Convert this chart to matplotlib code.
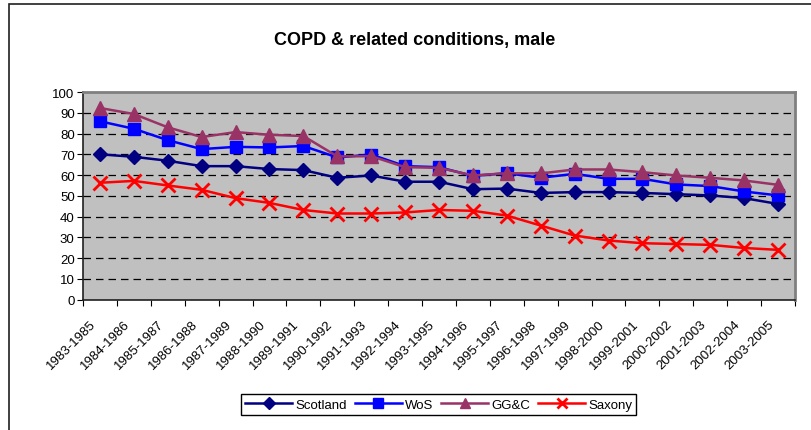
import matplotlib
matplotlib.use("Agg")
import matplotlib.pyplot as plt
import matplotlib.patches as patches
import matplotlib.transforms as mtransforms
import numpy as np

plt.rcParams["font.family"] = ["Liberation Sans", "DejaVu Sans"]

periods = ["1983-1985", "1984-1986", "1985-1987", "1986-1988", "1987-1989",
           "1988-1990", "1989-1991", "1990-1992", "1991-1993", "1992-1994",
           "1993-1995", "1994-1996", "1995-1997", "1996-1998", "1997-1999",
           "1998-2000", "1999-2001", "2000-2002", "2001-2003", "2002-2004",
           "2003-2005"]

scotland = [70.0, 68.8, 66.9, 64.3, 64.3, 62.9, 62.4, 58.7, 59.8, 56.8, 56.8,
            53.2, 53.5, 51.4, 51.8, 51.8, 51.4, 50.8, 50.2, 48.9, 46.1]
wos = [85.9, 82.3, 76.8, 72.5, 73.6, 73.3, 74.0, 68.5, 69.9, 64.3, 63.8,
       59.6, 60.9, 58.7, 60.6, 58.2, 58.2, 55.5, 54.7, 52.1, 50.2]
ggc = [92.3, 89.4, 83.0, 78.3, 80.7, 79.4, 78.8, 69.0, 69.1, 63.8, 63.5,
       59.8, 60.9, 60.8, 62.7, 62.7, 61.4, 59.8, 58.7, 57.4, 55.3]
saxony = [56.3, 57.2, 55.0, 52.9, 48.9, 46.6, 43.2, 41.5, 41.5, 42.0, 43.2,
          42.8, 40.5, 35.7, 30.9, 28.5, 27.2, 26.8, 26.4, 24.9, 24.0]

W, H = 812, 431
fig = plt.figure(figsize=(W / 100, H / 100), dpi=100)

# chart area border (right and bottom edges fall outside the canvas)
fig.patches.append(patches.Rectangle((9 / W, -0.1), 1.2, 1 - 5 / H + 0.1,
                                     transform=fig.transFigure, fill=False,
                                     edgecolor="#202020", lw=1.2))

ax = fig.add_axes([83 / W, 1 - 300.7 / H, (795 - 83) / W, (300.7 - 93) / H])
ax.set_facecolor("#C0C0C0")

x = np.arange(len(periods))
ax.plot(x, scotland, color="#000080", lw=1.8, marker="D", ms=7.5, label="Scotland")
ax.plot(x, wos, color="#0000FF", lw=1.8, marker="s", ms=9, label="WoS")
ax.plot(x, ggc, color="#993366", lw=1.8, marker="^", ms=10.5, label="GG&C")
ax.plot(x, saxony, color="#FF0000", lw=1.8, marker="x", ms=9.5, mew=2, label="Saxony")

ax.set_xlim(-0.5, len(periods) - 0.5)
ax.set_ylim(0, 100)
ax.set_yticks(range(0, 101, 10))
ax.set_yticklabels([str(v) for v in range(0, 101, 10)], fontsize=9.5)
for v in range(10, 100, 10):
    ax.axhline(v, color="black", lw=0.9, ls=(0, (6, 4)), zorder=0.5)

# category ticks on the boundaries, labels at the centres
ax.set_xticks(np.arange(-0.5, len(periods), 1))
ax.set_xticklabels([])
ax.set_xticks(x, minor=True)
ax.set_xticklabels(periods, minor=True, rotation=45, ha="right",
                   va="center", rotation_mode="anchor", fontsize=9.5)
ax.tick_params(axis="x", which="minor", length=0, pad=14)
ax.tick_params(axis="x", which="major", length=4, direction="out", color="black")
ax.tick_params(axis="y", length=4, direction="out", color="black", pad=2)

shift = mtransforms.ScaledTranslation(-6 / 100, -3 / 100, fig.dpi_scale_trans)
for lab in ax.get_xticklabels(minor=True):
    lab.set_transform(lab.get_transform() + shift)

for side in ["left", "bottom"]:
    ax.spines[side].set_color("#202020")
    ax.spines[side].set_linewidth(1.2)
for side in ["top", "right"]:
    ax.spines[side].set_color("#808080")
    ax.spines[side].set_linewidth(2)

fig.text(0.511, 1 - 40 / H, "COPD & related conditions, male", ha="center",
         va="center", fontsize=13, fontweight="bold")

leg = fig.legend(loc="center", bbox_to_anchor=(0.540, 1 - 405.5 / H), ncol=4,
                 fontsize=9.5, fancybox=False, edgecolor="black", framealpha=1,
                 handlelength=3.6, columnspacing=0.6, handletextpad=0.2,
                 borderpad=0.3, borderaxespad=0, markerscale=0.75)
leg.get_frame().set_linewidth(1.0)

fig.savefig("out.png", dpi=100)
